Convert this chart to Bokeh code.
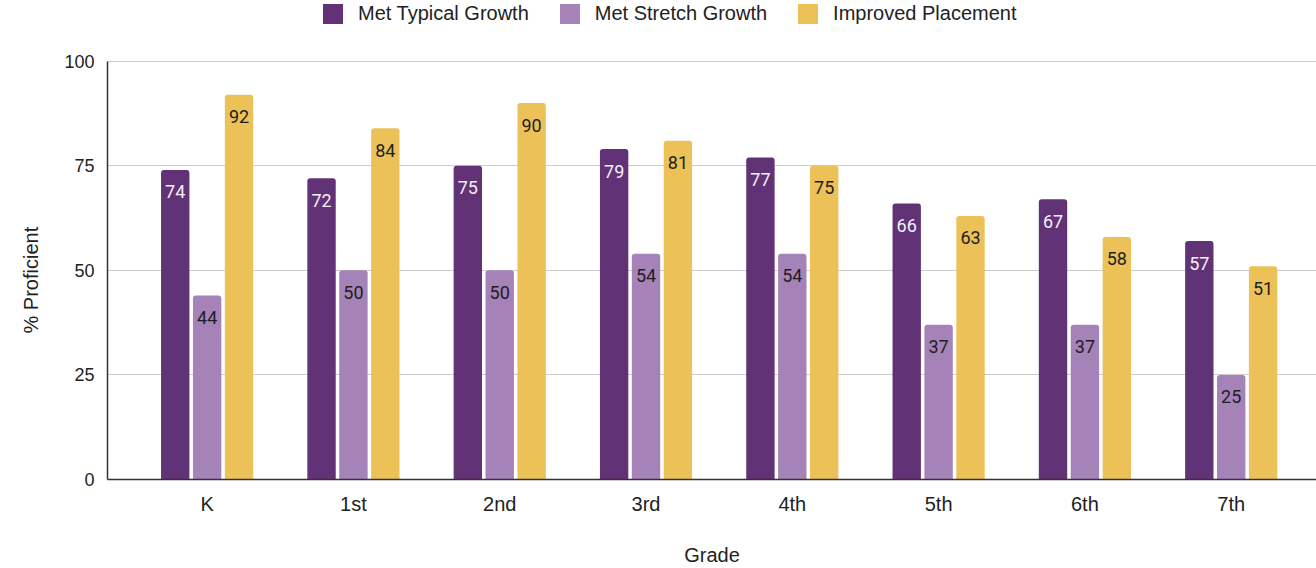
from bokeh.plotting import figure
from bokeh.models import ColumnDataSource, Range1d, FixedTicker, Legend, LegendItem, Title
from bokeh.transform import dodge
from bokeh.core.properties import value
from bokeh.embed import file_html
from bokeh.resources import INLINE

grades = ["K", "1st", "2nd", "3rd", "4th", "5th", "6th", "7th"]
typical = [74, 72, 75, 79, 77, 66, 67, 57]
stretch = [44, 50, 50, 54, 54, 37, 37, 25]
placement = [92, 84, 90, 81, 75, 63, 58, 51]
series_names = ["Met Typical Growth", "Met Stretch Growth", "Improved Placement"]
colors = ["#623276", "#A582B7", "#ECC158"]
label_colors = ["#F4F0F6", "#1E1E1E", "#1E1E1E"]
y_ticks = [0, 25, 50, 75, 100]

xs = list(range(len(grades)))
src = ColumnDataSource(dict(
    x=xs, typical=typical, stretch=stretch, placement=placement,
    typical_lbl=[str(v) for v in typical],
    stretch_lbl=[str(v) for v in stretch],
    placement_lbl=[str(v) for v in placement],
))

# frame spans the full top so the legend (drawn in the frame) is not clipped;
# the value axis itself is bounded to 0..100
p = figure(width=1316, height=568, output_backend="svg", toolbar_location=None,
           x_range=Range1d(-0.681, 7.583), y_range=Range1d(0, 114.52),
           min_border_left=107, min_border_right=0, min_border_top=0,
           min_border_bottom=87)

offsets = [-0.218, 0.0, 0.218]
cols = ["typical", "stretch", "placement"]
items = []
for col, off, c, lc, name in zip(cols, offsets, colors, label_colors, series_names):
    r = p.vbar(x=dodge("x", off, range=p.x_range), top=col, width=0.194, source=src,
               fill_color=c, line_color=None, border_radius=(3, 3, 0, 0))
    items.append(LegendItem(label=name, renderers=[r]))
    p.text(x=dodge("x", off, range=p.x_range), y=col, text=col + "_lbl", source=src,
           text_align="center", text_baseline="middle", y_offset=22,
           text_font=value("Roboto"), text_font_size="18px", text_color=lc)

legend = Legend(items=items, orientation="horizontal", location=(213, 453),
                padding=0, margin=0, spacing=28, label_standoff=13,
                glyph_width=25, glyph_height=25,
                label_text_font="Liberation Sans", label_text_font_size="20px",
                label_text_color="#222222", border_line_color=None,
                background_fill_alpha=0)
p.add_layout(legend, "center")

p.outline_line_color = None
p.xgrid.grid_line_color = None
p.ygrid.grid_line_color = "#CCCCCC"
p.ygrid.grid_line_width = 1
p.ygrid.ticker = FixedTicker(ticks=y_ticks)

p.yaxis.ticker = FixedTicker(ticks=y_ticks)
p.yaxis.bounds = (0, 100)
p.yaxis.major_label_text_font = "Liberation Sans"
p.yaxis.major_label_text_font_size = "18px"
p.yaxis.major_label_text_color = "#222222"
p.yaxis.major_label_standoff = 7
p.yaxis.major_tick_line_color = None
p.yaxis.minor_tick_line_color = None
p.yaxis.axis_line_color = "#333333"
p.yaxis.axis_line_width = 1.5

# value-axis title, placed level with the 0..100 part of the axis
p.add_layout(Title(text="% Proficient", align="left", offset=146, standoff=36,
                   vertical_align="top",
                   text_font="Liberation Sans", text_font_size="20px",
                   text_font_style="normal", text_color="#222222"), "left")

p.xaxis.ticker = FixedTicker(ticks=xs)
p.xaxis.major_label_overrides = {i: g for i, g in zip(xs, grades)}
p.xaxis.axis_label = "Grade"
p.xaxis.axis_label_text_font = "Liberation Sans"
p.xaxis.axis_label_text_font_size = "20px"
p.xaxis.axis_label_text_font_style = "normal"
p.xaxis.axis_label_text_color = "#222222"
p.xaxis.axis_label_standoff = 26
p.xaxis.major_label_text_font = "Liberation Sans"
p.xaxis.major_label_text_font_size = "20px"
p.xaxis.major_label_text_color = "#222222"
p.xaxis.major_label_standoff = 7
p.xaxis.major_tick_line_color = None
p.xaxis.minor_tick_line_color = None
p.xaxis.axis_line_color = "#333333"
p.xaxis.axis_line_width = 1.5

open("out.html", "w").write(file_html(p, INLINE))
